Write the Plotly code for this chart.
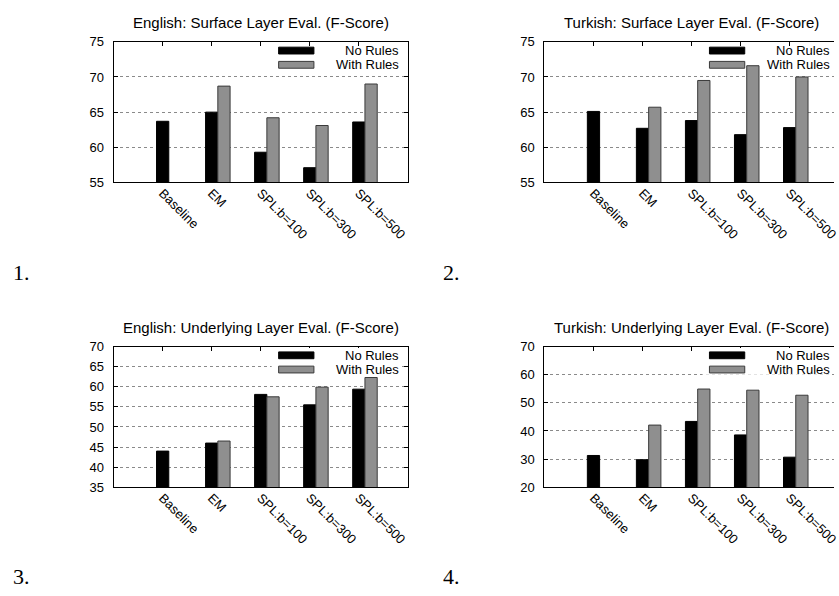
import plotly.graph_objects as go

# ---------------- data ----------------
categories = ["Baseline", "EM", "SPL:b=100", "SPL:b=300", "SPL:b=500"]
series_names = ["No Rules", "With Rules"]

en_surface_norules = [63.7, 65.0, 59.3, 57.1, 63.6]
en_surface_rules = [None, 68.7, 64.2, 63.1, 69.0]

tr_surface_norules = [65.1, 62.7, 63.8, 61.8, 62.8]
tr_surface_rules = [None, 65.7, 69.5, 71.6, 70.0]

en_under_norules = [44.0, 46.0, 58.1, 55.5, 59.4]
en_under_rules = [None, 46.5, 57.5, 59.9, 62.3]

tr_under_norules = [31.3, 29.8, 43.4, 38.6, 30.7]
tr_under_rules = [None, 42.1, 54.9, 54.5, 52.7]

titles = [
    "English: Surface Layer Eval. (F-Score)",
    "Turkish: Surface Layer Eval. (F-Score)",
    "English: Underlying Layer Eval. (F-Score)",
    "Turkish: Underlying Layer Eval. (F-Score)",
]
y_ranges = [[55, 75], [55, 75], [35, 70], [20, 70]]
y_dticks = [5, 5, 5, 10]
panel_labels = ["1.", "2.", "3.", "4."]

# ---------------- layout geometry (pixels) ----------------
W, H = 839, 596
PW = 296.0                       # full plot width in px (6 category units)
UNIT = PW / 6.0
lefts = [114.3, 547.7, 114.3, 547.7]
tops = [35.7, 35.7, 348.3, 348.3]
bottoms = [180.0, 180.0, 492.7, 492.7]
key_box = [False, False, True, True]   # key box hides grid lines crossing it

BLACK = "#000000"
GREY = "#8f8f8f"
GREY_LINE = "#3a3a3a"
FONT = "Liberation Sans"

pairs = [
    (en_surface_norules, en_surface_rules),
    (tr_surface_norules, tr_surface_rules),
    (en_under_norules, en_under_rules),
    (tr_under_norules, tr_under_rules),
]

fig = go.Figure()
shapes = []
annotations = []
layout_axes = {}

for i in range(4):
    n = "" if i == 0 else str(i + 1)
    xa, ya = "x" + n, "y" + n
    left, top, bottom = lefts[i], tops[i], bottoms[i]
    right_full = left + PW
    right = min(right_full, W)
    clipped = right_full > W
    xmax = -1 + (right - left) / UNIT

    no_r, with_r = pairs[i]
    fig.add_trace(go.Bar(
        x=categories, y=no_r, name=series_names[0],
        xaxis=xa, yaxis=ya, width=0.25, offset=-0.125,
        marker=dict(color=BLACK, line=dict(color=BLACK, width=1)),
        showlegend=False,
    ))
    fig.add_trace(go.Bar(
        x=categories, y=with_r, name=series_names[1],
        xaxis=xa, yaxis=ya, width=0.25, offset=0.125,
        marker=dict(color=GREY, line=dict(color=GREY_LINE, width=1)),
        showlegend=False,
    ))

    layout_axes["xaxis" + n] = dict(
        domain=[left / W, right / W],
        anchor=ya,
        type="category",
        categoryorder="array",
        categoryarray=categories,
        range=[-1, xmax],
        showgrid=False,
        showline=True, linecolor="black", linewidth=1,
        mirror="ticks",
        ticks="inside", ticklen=4, tickcolor="black",
        tickangle=45,
        tickfont=dict(family=FONT, size=13, color="black"),
        ticklabelstandoff=-3,
        zeroline=False,
        fixedrange=True,
    )
    layout_axes["yaxis" + n] = dict(
        domain=[1 - bottom / H, 1 - top / H],
        anchor=xa,
        range=y_ranges[i],
        tick0=y_ranges[i][0], dtick=y_dticks[i],
        showgrid=True, gridcolor="#8a8a8a", griddash="dot", gridwidth=1,
        showline=True, linecolor="black", linewidth=1,
        mirror=(False if clipped else "ticks"),
        ticks="inside", ticklen=4, tickcolor="black",
        tickfont=dict(family=FONT, size=13, color="black"),
        ticklabelstandoff=6,
        zeroline=False,
        fixedrange=True,
    )

    # title
    annotations.append(dict(
        text=titles[i], xref="paper", yref="paper",
        x=(left + PW / 2) / W, y=1 - (top - 19.5) / H,
        xanchor="center", yanchor="middle", showarrow=False,
        font=dict(family=FONT, size=15, color="black"),
    ))

    # key (legend): optional white box, samples, texts
    if key_box[i]:
        shapes.append(dict(
            type="rect", xref="paper", yref="paper",
            x0=(right_full - 137) / W, x1=min(right_full - 7.5, W - 1) / W,
            y0=1 - (top + 29) / H, y1=1 - (top + 1.5) / H,
            fillcolor="white", line=dict(width=0), layer="above",
        ))
    row_centers = [top + 9.0, top + 23.6]
    sample_cols = [(BLACK, BLACK), (GREY, GREY_LINE)]
    for r in range(2):
        fc, lc = sample_cols[r]
        shapes.append(dict(
            type="rect", xref="paper", yref="paper",
            x0=(right_full - 130) / W, x1=(right_full - 94.5) / W,
            y0=1 - (row_centers[r] + 3.5) / H, y1=1 - (row_centers[r] - 3.5) / H,
            fillcolor=fc, line=dict(color=lc, width=1), layer="above",
        ))
        annotations.append(dict(
            text=series_names[r], xref="paper", yref="paper",
            x=(right_full - 8.0) / W, y=1 - row_centers[r] / H,
            xanchor="right", yanchor="middle", showarrow=False,
            borderpad=0,
            font=dict(family=FONT, size=13, color="black"),
        ))

# panel numbers
panel_pos = [(11, 272), (444, 272), (11, 584), (444, 584)]
for lab, (px, py) in zip(panel_labels, panel_pos):
    annotations.append(dict(
        text=lab, xref="paper", yref="paper",
        x=px / W, y=1 - py / H, xanchor="left", yanchor="middle",
        showarrow=False,
        font=dict(family="Liberation Serif", size=22, color="black"),
    ))

fig.update_layout(
    width=W, height=H,
    margin=dict(l=0, r=0, t=0, b=0),
    paper_bgcolor="white", plot_bgcolor="white",
    barmode="overlay",
    showlegend=False,
    shapes=shapes,
    annotations=annotations,
    **layout_axes,
)

fig.write_html(
    "out.html",
    config={"displayModeBar": False},
    post_script="document.body.style.margin='0px';document.body.style.overflow='hidden';",
)
